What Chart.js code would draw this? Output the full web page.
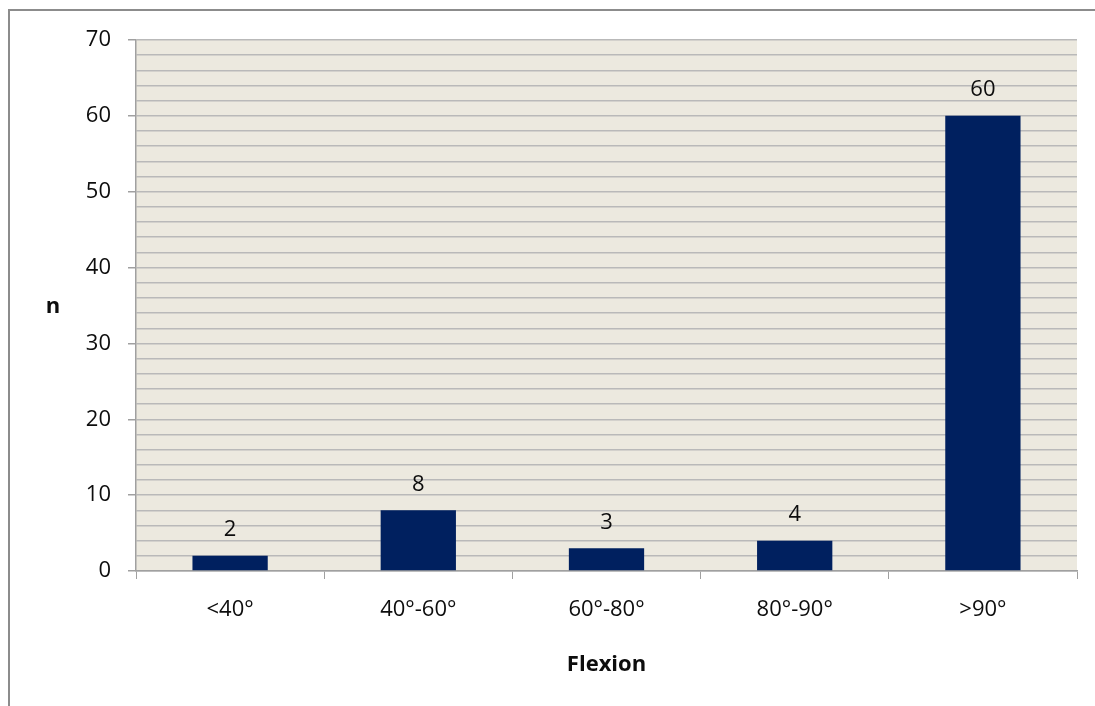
<!DOCTYPE html>
<html>
<head>
<meta charset="utf-8">
<script src="https://cdn.jsdelivr.net/npm/chart.js@4"></script>
<style>
  html, body { margin: 0; padding: 0; background: #fff; overflow: hidden; }
  canvas { display: block; }
</style>
</head>
<body>
<canvas id="chart" width="1095" height="706"></canvas>
<script>
// data
const categories = ['<40°', '40°-60°', '60°-80°', '80°-90°', '>90°'];
const counts = [2, 8, 3, 4, 60];
const yTicks = [0, 10, 20, 30, 40, 50, 60, 70];

const fontFamily = '"Open Sans", "DejaVu Sans", sans-serif';
const textColor = '#0d0d0d';

// outer frame + beige plot area
const plotBg = {
  id: 'plotBg',
  beforeDraw(chart) {
    const { ctx, chartArea: a } = chart;
    ctx.save();
    ctx.strokeStyle = '#8c8c8c';
    ctx.lineWidth = 2;
    ctx.beginPath();
    ctx.moveTo(9, chart.height);
    ctx.lineTo(9, 10);
    ctx.lineTo(chart.width, 10);
    ctx.stroke();
    ctx.fillStyle = '#ECE9DF';
    ctx.fillRect(a.left, a.top, a.right - a.left, a.bottom - a.top);
    ctx.restore();
  }
};

// values over bars + upright "n"
const labels = {
  id: 'labels',
  afterDatasetsDraw(chart) {
    const ctx = chart.ctx;
    ctx.save();
    ctx.fillStyle = textColor;
    ctx.font = '22px ' + fontFamily;
    ctx.textAlign = 'center';
    ctx.textBaseline = 'middle';
    chart.getDatasetMeta(0).data.forEach((bar, i) => {
      ctx.fillText(String(counts[i]), bar.x, bar.y - 26);
    });
    ctx.font = 'bold 22px ' + fontFamily;
    ctx.fillText('n', 53, 307);
    ctx.restore();
  }
};

new Chart(document.getElementById('chart'), {
  type: 'bar',
  data: {
    labels: categories,
    datasets: [{
      data: counts,
      backgroundColor: '#00205F',
      barPercentage: 0.8,
      categoryPercentage: 0.5
    }]
  },
  options: {
    responsive: false,
    animation: false,
    layout: { padding: { left: 40, top: 40, right: 18, bottom: 20 } },
    plugins: { legend: { display: false }, tooltip: { enabled: false } },
    scales: {
      x: {
        grid: {
          drawOnChartArea: false,
          tickLength: 8,
          color: '#A0A0A0',
          offset: true
        },
        border: { color: '#A0A0A0', width: 1.5 },
        ticks: { color: textColor, font: { family: fontFamily, size: 22 }, padding: 18 },
        title: {
          display: true,
          text: 'Flexion',
          color: textColor,
          font: { family: fontFamily, size: 22, weight: 'bold' },
          padding: { top: 0, bottom: 8 }
        },
        afterFit(scale) { scale.height = 115; }
      },
      y: {
        min: 0,
        max: 70,
        ticks: {
          stepSize: 2,
          autoSkip: false,
          color: textColor,
          font: { family: fontFamily, size: 22 },
          padding: 17,
          callback: v => (yTicks.includes(v) ? v : '')
        },
        grid: {
          color: '#B9B9B9',
          lineWidth: 1.5,
          tickLength: 8,
          tickColor: c => (c.tick && c.tick.value % 10 === 0 ? '#A0A0A0' : 'rgba(0,0,0,0)')
        },
        border: { color: '#A0A0A0', width: 1.5 },
        afterFit(scale) { scale.width = 96; }
      }
    }
  },
  plugins: [plotBg, labels]
});
</script>
</body>
</html>
